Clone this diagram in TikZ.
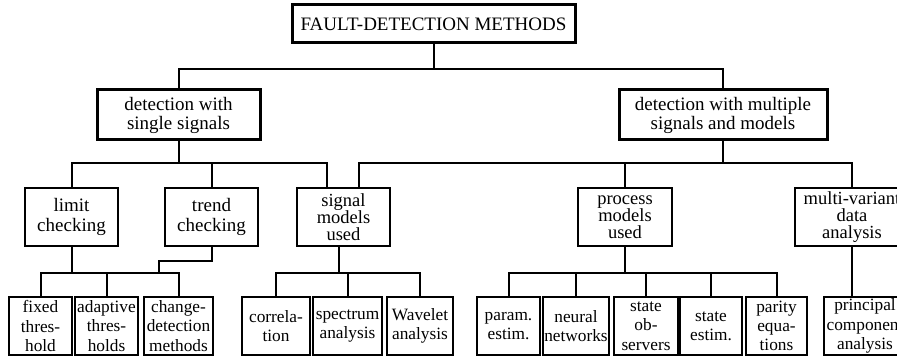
\documentclass[tikz,border=0pt]{standalone}
\usepackage{fontspec}
\setmainfont{Liberation Serif}
\begin{document}
\begin{tikzpicture}[x=1pt,y=-1pt,
  boxbase/.style={draw=black,rectangle,inner sep=0pt,align=center,fill=white},
  topbox/.style={boxbase,line width=3pt,font=\fontsize{19}{20}\selectfont},
  midbox/.style={boxbase,line width=3pt,minimum height=50pt,font=\fontsize{19}{19}\selectfont},
  lvlbox/.style={boxbase,line width=2pt,minimum height=58pt,font=\fontsize{19}{20}\selectfont},
  lvlboxthree/.style={boxbase,line width=2pt,minimum height=58pt,font=\fontsize{18.5}{17}\selectfont},
  leafbox/.style={boxbase,line width=2.6pt,minimum height=58pt,font=\fontsize{17.3}{19.3}\selectfont},
  conn/.style={line width=2pt}]
\useasboundingbox (0,0) rectangle (897,358);
\clip (0,0) rectangle (897,358);
% coordinates for bus levels
\coordinate (b1) at (0,69);
\coordinate (b2) at (0,163);
\coordinate (b3) at (0,272.5);
\coordinate (tj) at (159,261);
% top
\node[topbox,minimum width=283pt,minimum height=38pt] (top) at (433.5,24) {FAULT-DETECTION METHODS};
% level 2
\node[midbox,minimum width=163pt] (ssig) at (178.5,115) {detection with\\single signals};
\node[midbox,minimum width=208pt] (msig) at (723,115) {detection with multiple\\signals and models};
% level 3
\node[lvlbox,minimum width=93pt] (limit) at (71.5,217) {limit\\checking};
\node[lvlbox,minimum width=93pt] (trend) at (211.5,217) {trend\\checking};
\node[lvlboxthree,minimum width=93pt] (sigm) at (343.5,217) {signal\\models\\used};
\node[lvlboxthree,minimum width=94pt] (proc) at (625,217) {process\\models\\used};
\node[lvlboxthree,minimum width=114pt] (multi) at (852,217) {multi-variant\\data\\analysis};
% level 4
\node[leafbox,minimum width=63pt] (fixed) at (40.5,326) {fixed\\thres-\\hold};
\node[leafbox,minimum width=63pt] (adapt) at (106.5,326) {adaptive\\thres-\\holds};
\node[leafbox,minimum width=69pt] (change) at (178.5,326) {change-\\detection\\methods};
\node[leafbox,minimum width=68pt] (corr) at (276,326) {correla-\\tion};
\node[leafbox,minimum width=69pt] (spec) at (347.5,326) {spectrum\\analysis};
\node[leafbox,minimum width=66pt] (wave) at (420,326) {Wavelet\\analysis};
\node[leafbox,minimum width=63pt] (param) at (508.5,326) {param.\\estim.};
\node[leafbox,minimum width=66pt] (neural) at (576,326) {neural\\networks};
\node[leafbox,minimum width=64pt] (sobs) at (646,326) {state\\ob-\\servers};
\node[leafbox,minimum width=62pt] (sest) at (711,326) {state\\estim.};
\node[leafbox,minimum width=61pt] (parity) at (776.5,326) {parity\\equa-\\tions};
\node[leafbox,minimum width=82pt] (princ) at (865,326) {principal\\component\\analysis};
% connectors level 1-2
\draw[conn] (top.south) -- (top.south |- b1);
\draw[conn] (top.south |- b1) -| (ssig.north);
\draw[conn] (top.south |- b1) -| (msig.north);
% level 2-3
\draw[conn] (ssig.south) -- (ssig.south |- b2);
\draw[conn] (ssig.south |- b2) -| (limit.north);
\draw[conn] (ssig.south |- b2) -| (trend.north);
\draw[conn] (ssig.south |- b2) -| ([xshift=-16.5pt]sigm.north);
\draw[conn] (msig.south) -- (msig.south |- b2);
\draw[conn] (msig.south |- b2) -| ([xshift=15.5pt]sigm.north);
\draw[conn] (msig.south |- b2) -| (proc.north);
\draw[conn] (msig.south |- b2) -| (multi.north);
% limit / trend -> leaves
\draw[conn] (limit.south) -- (limit.south |- b3);
\draw[conn] (trend.south) |- (tj) -- (tj |- b3);
\draw[conn] (fixed.north) |- (change.north |- b3) -- (change.north);
\draw[conn] (adapt.north) -- (adapt.north |- b3);
% signal models -> leaves
\draw[conn] ([xshift=-4.5pt]sigm.south) -- ([xshift=-4.5pt]sigm.south |- b3);
\draw[conn] (corr.north) |- (wave.north |- b3) -- (wave.north);
\draw[conn] (spec.north) -- (spec.north |- b3);
% process models -> leaves
\draw[conn] (proc.south) -- (proc.south |- b3);
\draw[conn] (param.north) |- (parity.north |- b3) -- (parity.north);
\draw[conn] (neural.north) -- (neural.north |- b3);
\draw[conn] (sobs.north) -- (sobs.north |- b3);
\draw[conn] (sest.north) -- (sest.north |- b3);
% multi-variant -> principal
\draw[conn] (multi.south) -- (multi.south |- princ.north);
\end{tikzpicture}
\end{document}
